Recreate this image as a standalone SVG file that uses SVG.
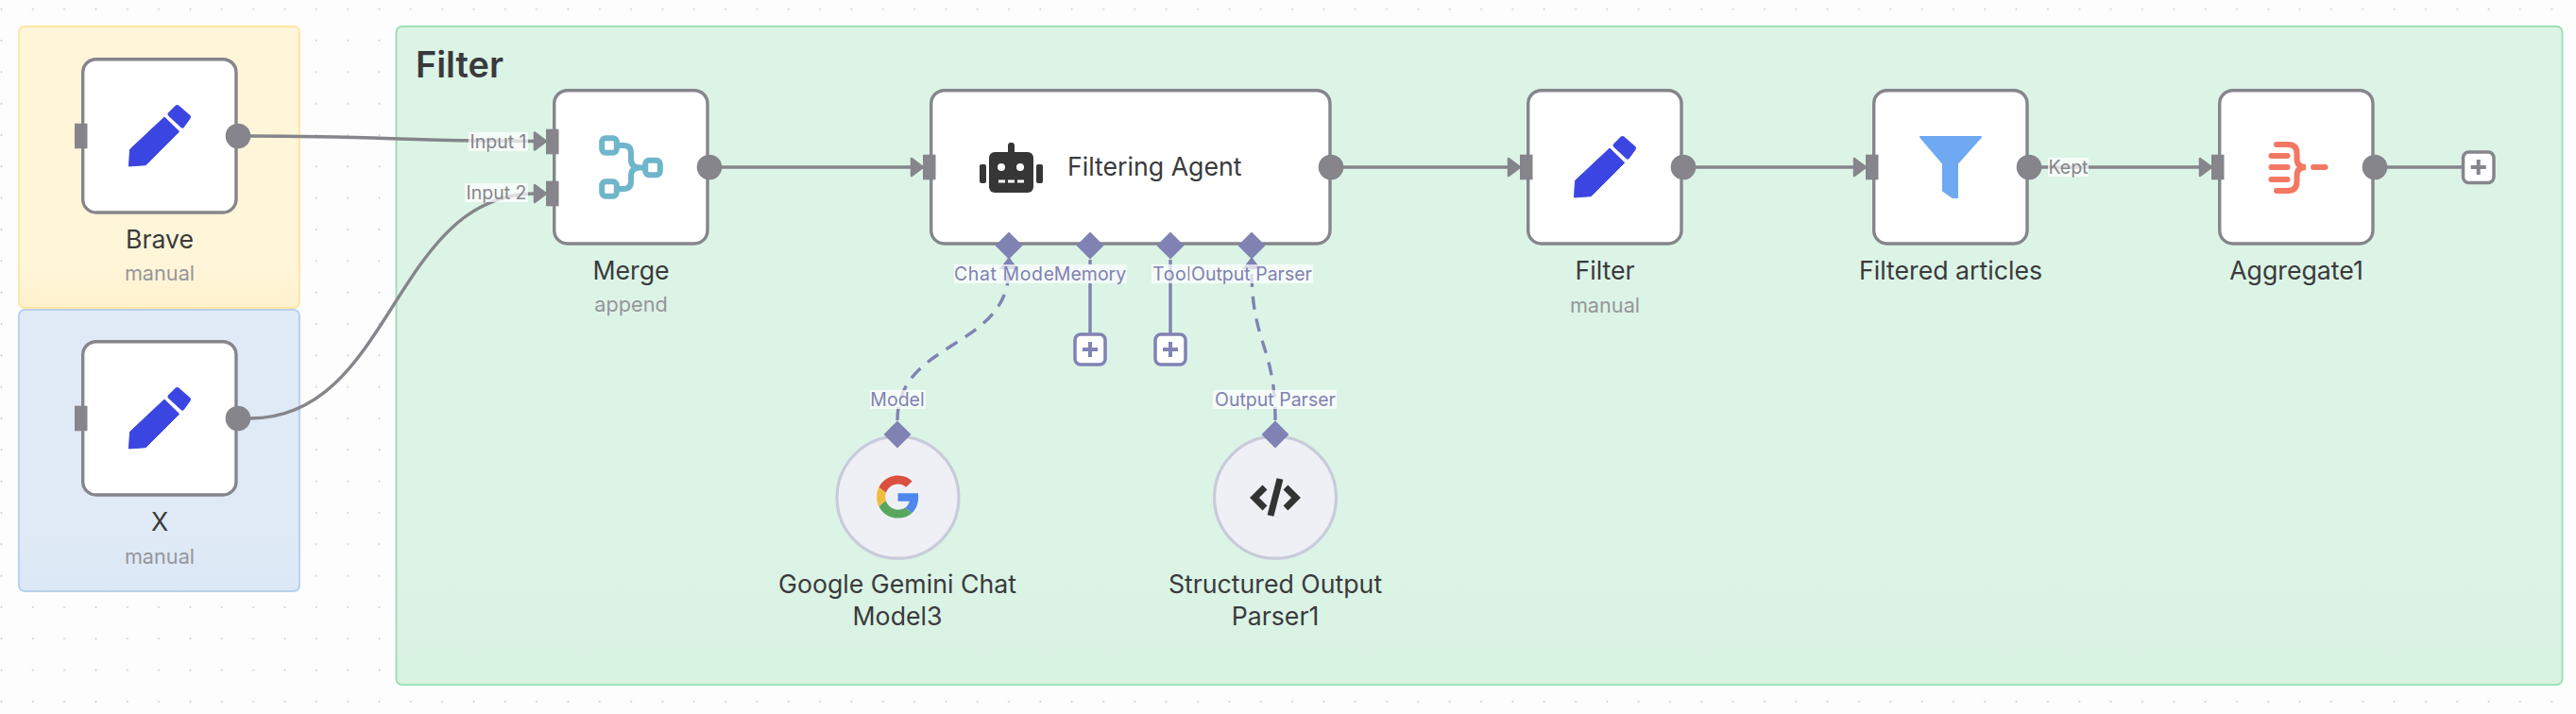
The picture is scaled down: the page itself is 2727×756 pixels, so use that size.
<svg xmlns="http://www.w3.org/2000/svg" width="2727" height="756" viewBox="0 0 2727 756">
<style>
text{font-family:Inter,"Liberation Sans",sans-serif}
.n{fill:#fff;stroke:#85858b;stroke-width:3.4}
.c{fill:#eff0f5;stroke:#c8cbd9;stroke-width:3.2}
.lb{font-size:26.7px;fill:#3a3a3c;text-anchor:middle}
.sb{font-size:21.7px;fill:#96969b;text-anchor:middle}
.e{fill:none;stroke:#85858b;stroke-width:3.4}
.a{fill:none;stroke:#8083b3;stroke-width:3.4}
.d{stroke-dasharray:14 10}
.tb{fill:#fff;fill-opacity:.72}
.tg{font-size:19.5px;fill:#85858b;text-anchor:middle}
.tp{font-size:19.5px;fill:#7f82b2;text-anchor:middle}
.ts{text-anchor:start;letter-spacing:.6px}
.o{fill:#85858b}
.m{fill:#7f82b2}
.plus{fill:#fff;stroke:#8083b3;stroke-width:3.5}
</style>
<defs>
<pattern id="dots" width="33.33" height="33.33" patternUnits="userSpaceOnUse" x="0" y="-7"><circle cx="1.5" cy="16.7" r="1" fill="#c9c9d2"/></pattern>
<linearGradient id="gy" x1="0" y1="0" x2="0" y2="1"><stop offset=".85" stop-color="#fff5d9"/><stop offset="1" stop-color="#fff2cd"/></linearGradient>
<linearGradient id="gb" x1="0" y1="0" x2="0" y2="1"><stop offset=".75" stop-color="#e0eaf6"/><stop offset="1" stop-color="#dce8f6"/></linearGradient>
<linearGradient id="gg" x1="0" y1="0" x2="0" y2="1"><stop offset=".8" stop-color="#dcf4e6"/><stop offset="1" stop-color="#d8f2e2"/></linearGradient>
<g id="pencil"><path fill="#3b46e2" stroke="#3b46e2" stroke-width="1" stroke-linejoin="round" d="M-32.500 32L-14.700 30.700L20.700-4.700L5-20L-31.500 14.300Z"/><path fill="#3b46e2" stroke="#3b46e2" stroke-width="5" stroke-linejoin="round" d="M11-23L18.500-30.500L30.500-20L24-11Z"/></g>
<path id="arrow" class="o" stroke="#85858b" stroke-width="2.500" stroke-linejoin="round" d="M-12-9L0 0L-12 9Z"/>
<path id="diamond" class="m" d="M0-14.500L14.500 0L0 14.500L-14.500 0Z"/>
<g id="plusA"><rect class="plus" x="-16" y="-16" width="32" height="32" rx="6"/><path d="M-8 0H8M0-8V8" stroke="#8083b3" stroke-width="4" fill="none"/></g>
</defs>
<rect width="2727" height="756" fill="#fdfdfe"/>
<rect width="2727" height="756" fill="url(#dots)"/>
<g id="sticky-yellow"><rect x="20" y="28" width="297" height="298" rx="6" fill="url(#gy)" stroke="#fde7a6" stroke-width="2"/></g>
<g id="sticky-blue"><rect x="20" y="328" width="297" height="298" rx="6" fill="url(#gb)" stroke="#b9d2ee" stroke-width="2"/></g>
<g id="sticky-green"><rect x="419.500" y="28" width="2293" height="697" rx="6" fill="url(#gg)" stroke="#9fdfb9" stroke-width="2"/><text x="440" y="82" font-size="37.800" font-weight="600" fill="#3a3a3c">Filter</text></g>

<g id="connectors">
<path class="e" d="M265 144C400 144 430 149.500 567 149.500"/>
<path class="e" d="M265 443C416 443 416 205 567 205"/>
<path class="e" d="M764 177H966"/>
<path class="e" d="M1422 177H1598"/>
<path class="e" d="M1795 177H1964"/>
<path class="e" d="M2161 177H2330"/>
<path class="e" d="M2527 177H2606"/>
<use href="#arrow" x="578" y="149.500"/>
<use href="#arrow" x="578" y="205"/>
<use href="#arrow" x="977" y="177"/>
<use href="#arrow" x="1609" y="177"/>
<use href="#arrow" x="1975" y="177"/>
<use href="#arrow" x="2341" y="177"/>
<path class="a d" d="M950 445C950 360 1068 370 1068 285"/>
<path class="a d" d="M1350 445C1350 365 1325 365 1325 285"/>
<path class="m" d="M1068 272L1078 285H1058Z"/>
<path class="m" d="M1325 272L1335 285H1315Z"/>
<path class="a" d="M1154 275V354"/>
<path class="a" d="M1239 275V354"/>
</g>

<g id="node-brave"><rect class="n" x="87.700" y="62.700" width="162.300" height="162.300" rx="14"/><rect class="o" x="79" y="130.700" width="13.500" height="26.600"/><circle class="o" cx="252" cy="144" r="13.300"/><use href="#pencil" x="169" y="144"/><text class="lb" x="169" y="263">Brave</text><text class="sb" x="169" y="297">manual</text></g>
<g id="node-x"><rect class="n" x="87.700" y="361.700" width="162.300" height="162.300" rx="14"/><rect class="o" x="79" y="429.700" width="13.500" height="26.600"/><circle class="o" cx="252" cy="443" r="13.300"/><use href="#pencil" x="169" y="443"/><text class="lb" x="169" y="562">X</text><text class="sb" x="169" y="597">manual</text></g>
<g id="node-merge"><rect class="n" x="586.700" y="95.700" width="162.300" height="162.300" rx="14"/><rect class="o" x="578" y="136.700" width="13.500" height="26.600"/><rect class="o" x="578" y="191.700" width="13.500" height="26.600"/><circle class="o" cx="751" cy="177" r="13.300"/>
<g fill="none" stroke="#6fb5cb" stroke-width="6" stroke-linejoin="round"><rect x="637.200" y="146.200" width="15.600" height="15.600" rx="4"/><rect x="637.200" y="192.200" width="15.600" height="15.600" rx="4"/><rect x="683.200" y="169.700" width="15.600" height="15.600" rx="4"/><path d="M653 154H660Q668 154 668 162V169Q668 177.500 678 177.500H683M653 200H660Q668 200 668 192V186Q668 177.500 678 177.500"/></g>
<text class="lb" x="668" y="296">Merge</text><text class="sb" x="668" y="330">append</text></g>
<g id="node-agent"><rect class="n" x="985.700" y="95.700" width="422.300" height="162.300" rx="14"/><rect class="o" x="977" y="163.700" width="13.500" height="26.600"/><circle class="o" cx="1409" cy="177" r="13.300"/>
<g fill="#363636"><rect x="1047" y="161" width="47" height="43" rx="6"/><rect x="1067" y="151" width="7" height="14" rx="3"/><rect x="1037" y="174" width="7" height="20" rx="2"/><rect x="1097" y="174" width="7" height="20" rx="2"/></g><circle cx="1060" cy="177" r="4" fill="#fff"/><circle cx="1080" cy="177" r="4" fill="#fff"/><path d="M1057 192h7M1067 192h7M1077 192h7" stroke="#fff" stroke-width="3"/>
<text x="1130" y="186" font-size="26.700" fill="#3a3a3c">Filtering Agent</text></g>
<g id="node-filter"><rect class="n" x="1617.700" y="95.700" width="162.300" height="162.300" rx="14"/><rect class="o" x="1609" y="163.700" width="13.500" height="26.600"/><circle class="o" cx="1782" cy="177" r="13.300"/><use href="#pencil" x="1699" y="177"/><text class="lb" x="1699" y="296">Filter</text><text class="sb" x="1699" y="331">manual</text></g>
<g id="node-filtered"><rect class="n" x="1983.700" y="95.700" width="162.300" height="162.300" rx="14"/><rect class="o" x="1975" y="163.700" width="13.500" height="26.600"/><circle class="o" cx="2148" cy="177" r="13.300"/><path fill="#6ea9f2" stroke="#6ea9f2" stroke-width="2" stroke-linejoin="round" d="M2033 145H2097L2072 173V209H2067L2057 202V173Z"/><text class="lb" x="2065" y="296">Filtered articles</text></g>
<g id="node-aggregate"><rect class="n" x="2349.700" y="95.700" width="162.300" height="162.300" rx="14"/><rect class="o" x="2341" y="163.700" width="13.500" height="26.600"/><circle class="o" cx="2514" cy="177" r="13.300"/>
<path fill="none" stroke="#f37864" stroke-width="6" stroke-linecap="round" d="M2404.500 165H2421.500M2404.500 177H2421.500M2404.500 190H2421.500M2410 153H2422Q2431.500 153 2431.500 162V168Q2431.500 177 2441 177Q2431.500 177 2431.500 186V192Q2431.500 202 2422 202H2410M2449 177H2461.500"/>
<text class="lb" x="2431" y="296">Aggregate1</text></g>
<g id="add-end"><rect x="2607.500" y="161" width="32.500" height="32.500" rx="6" fill="#fff" stroke="#85858b" stroke-width="3.500"/><path d="M2615.700 177H2631.700M2623.700 169V185" stroke="#85858b" stroke-width="4"/></g>
<g id="add-memory"><use href="#plusA" x="1154" y="370"/></g>
<g id="add-tool"><use href="#plusA" x="1239" y="370"/></g>
<g id="node-gemini"><circle class="c" cx="950.500" cy="526.700" r="64.500"/><g transform="translate(928 503.500) scale(.94)"><path fill="#db4f3f" d="M24 9.500c3.540 0 6.710 1.220 9.210 3.600l6.850-6.850C35.900 2.380 30.470 0 24 0 14.620 0 6.510 5.380 2.560 13.220l7.980 6.190C12.430 13.720 17.740 9.500 24 9.500z"/><path fill="#4f87ee" d="M46.980 24.550c0-1.570-.15-3.090-.38-4.550H24v9.020h12.940c-.58 2.960-2.260 5.480-4.780 7.180l7.730 6c4.510-4.180 7.090-10.360 7.090-17.650z"/><path fill="#f2bc3e" d="M10.530 28.590c-.48-1.450-.76-2.990-.76-4.590s.27-3.140.76-4.590l-7.980-6.190C.92 16.460 0 20.120 0 24c0 3.880.92 7.540 2.560 10.780l7.970-6.190z"/><path fill="#58a75e" d="M24 48c6.480 0 11.930-2.130 15.890-5.810l-7.730-6c-2.150 1.450-4.920 2.300-8.160 2.300-6.260 0-11.570-4.220-13.470-9.910l-7.980 6.190C6.510 42.620 14.620 48 24 48z"/></g>
<text class="lb" x="950" y="628">Google Gemini Chat</text><text class="lb" x="950" y="662">Model3</text></g>
<g id="node-parser"><circle class="c" cx="1350" cy="526.700" r="64.500"/><path fill="none" stroke="#333" stroke-width="7" d="M1339 516L1328 527L1339 538M1361 516L1372 527L1361 538M1355 507L1345 546"/>
<text class="lb" x="1350" y="628">Structured Output</text><text class="lb" x="1350" y="662">Parser1</text></g>

<g id="ports">
<use href="#diamond" x="1068" y="260"/><use href="#diamond" x="1154" y="260"/><use href="#diamond" x="1239" y="260"/><use href="#diamond" x="1325" y="260"/>
<use href="#diamond" x="950" y="460"/><use href="#diamond" x="1350" y="460"/>
</g>
<g id="edge-labels">
<rect class="tb" x="496" y="140" width="63" height="20"/><text class="tg" x="527.500" y="157">Input 1</text>
<rect class="tb" x="492" y="194" width="67" height="20"/><text class="tg" x="525.500" y="211">Input 2</text>
<rect class="tb" x="2168" y="167" width="43" height="20"/><text class="tg" x="2189.500" y="184">Kept</text>
<rect class="tb" x="1010" y="280" width="116" height="20"/><text class="tp ts" x="1010" y="297">Chat Model</text>
<rect fill="#f4f9f9" x="1115" y="280" width="78" height="20"/><text class="tp" x="1154" y="297">Memory</text>
<rect class="tb" x="1219" y="280" width="40" height="20"/><text class="tp ts" x="1220" y="297">Tool</text>
<rect class="tb" x="1259" y="280" width="131" height="20"/><text class="tp" x="1325" y="297">Output Parser</text>
<rect class="tb" x="921" y="413" width="59" height="20"/><text class="tp" x="950" y="430">Model</text>
<rect class="tb" x="1284" y="413" width="131" height="20"/><text class="tp" x="1350" y="430">Output Parser</text>
</g>
</svg>
